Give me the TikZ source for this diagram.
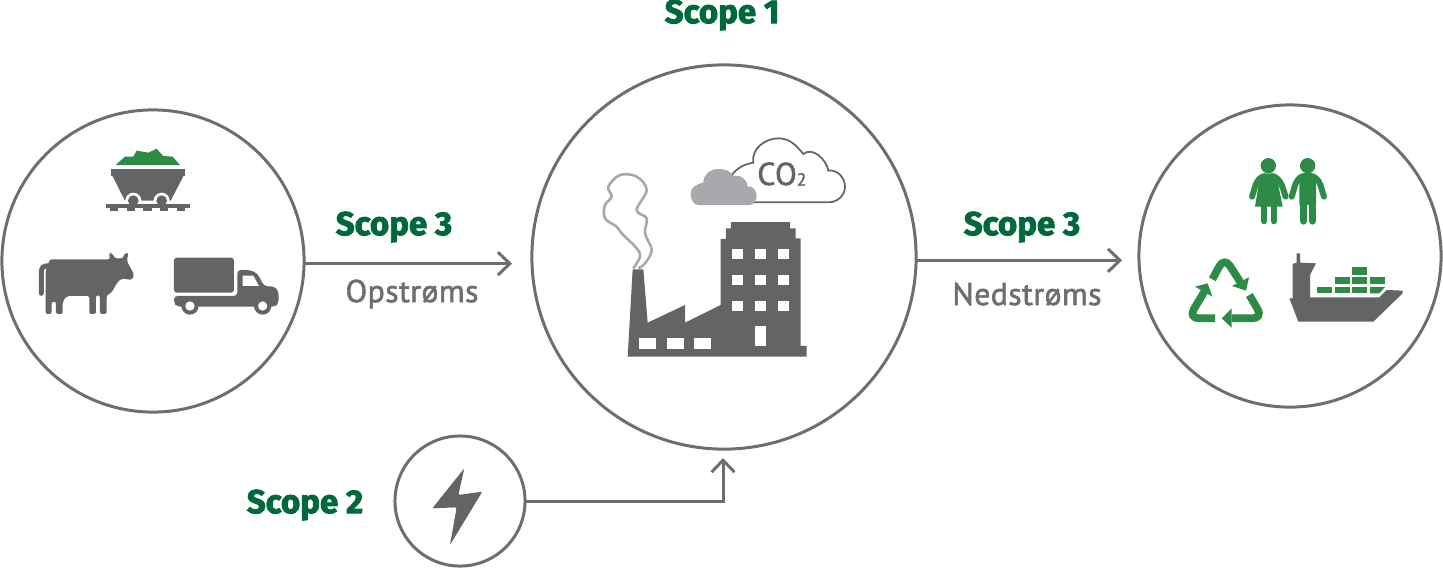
\documentclass[tikz,border=0pt]{standalone}
\usepackage{fontspec}
\usetikzlibrary{arrows.meta}
\newfontfamily\scopefont[BoldFeatures={FakeBold=2.6}]{Fira Sans}
\newfontfamily\labelfont[LetterSpace=1.5,FakeBold=1.8]{PT Sans}
\definecolor{scopegreen}{HTML}{00693C}
\definecolor{icongreen}{HTML}{2E8B45}
\definecolor{icongray}{HTML}{636466}
\definecolor{ringgray}{HTML}{6D6E70}
\definecolor{cloudgray}{HTML}{A7A9AC}
\tikzset{
	ring/.style={circle, draw=ringgray, line width=0.85pt, inner sep=0pt, outer sep=0pt},
	flow/.style={draw=ringgray, line width=0.85pt, -{Straight Barb[length=3.4pt,width=6.5pt]}},
	scopelabel/.style={text=scopegreen, font=\scopefont\bfseries\fontsize{9.4}{10}\selectfont, inner sep=0pt},
	dirlabel/.style={text=ringgray, font=\labelfont\fontsize{9}{10}\selectfont, inner sep=0pt},
	dark/.style={fill=icongray, draw=none},
	leaf/.style={fill=icongreen, draw=none},
	hole/.style={fill=white, draw=none},
	limb/.style={draw=icongreen, line cap=round},
	smokeline/.style={draw=cloudgray, line width=0.75pt, line join=round},
	loopline/.style={draw=icongreen, line width=2.2pt, rounded corners=3pt},
}
\begin{document}
\begin{tikzpicture}[x=0.01cm, y=-0.01cm]
	\useasboundingbox (0, 0) rectangle (1443, 575);

	% Rings
	\node[ring, minimum size=3.02cm] (supply) at (153, 261) {};
	\node[ring, minimum size=3.84cm] (plant) at (724, 257) {};
	\node[ring, minimum size=3.02cm] (customer) at (1290, 256) {};
	\node[ring, minimum size=1.30cm] (power) at (460, 501) {};

	% Connectors
	\path (supply.-1) ++(208, 0) coordinate (supplyend);
	\path (plant.-1.2) ++(206, 0) coordinate (customerend);
	\coordinate (powerend) at (723, 458);
	\draw[flow] (supply.-1) -- (supplyend);
	\draw[flow] (plant.-1.2) -- (customerend);
	\draw[flow] (power.east) -| (powerend);

	% Labels
	\node[scopelabel] (scopeone) at (722, 15) {Scope 1};
	\node[scopelabel] (scopeup) at (394, 227) {Scope 3};
	\node[scopelabel] (scopedown) at (1022, 227) {Scope 3};
	\node[scopelabel] (scopetwo) at (305, 505) {Scope 2};
	\node[dirlabel] (upstream) at (412, 294) {Opstrøms};
	\node[dirlabel] (downstream) at (1027, 294) {Nedstrøms};

	% Cart, cow, truck
	\begin{scope}[shift={(0, 110)}, scale=0.3333]
		\fill[leaf] (347, 165) -- (375, 140) -- (400, 140) -- (410, 122) -- (445, 128) -- (470, 116) -- (490, 138) -- (518, 140) -- (540, 165) -- cycle;
		\fill[dark] (333, 177) rectangle (555, 197);
		\fill[dark] (337, 197) -- (551, 197) -- (512, 272) -- (375, 272) -- cycle;
		\fill[hole] (400, 272) circle (24);
		\fill[hole] (485, 272) circle (24);
		\fill[dark] (400, 272) circle (16);
		\fill[dark] (485, 272) circle (16);
		\fill[dark] (317, 283) rectangle (570, 295);
		\foreach \x in {330, 380, 430, 480, 530}
			\fill[dark] (\x, 295) rectangle ({\x + 25}, 302);

		\fill[dark, rounded corners=0.6pt] (137, 612) -- (137, 480) -- (150, 448) -- (330, 448) -- (327, 430) -- (335, 428) -- (345, 445) -- (368, 445) -- (376, 428) -- (386, 430) -- (380, 452) -- (403, 495) -- (395, 510) -- (365, 505) -- (350, 520) -- (335, 548) -- (320, 556) -- (320, 612) -- (300, 612) -- (300, 556) -- (288, 556) -- (288, 612) -- (268, 612) -- (268, 558) -- (200, 558) -- (188, 575) -- (188, 612) -- (168, 612) -- (168, 575) -- (155, 575) -- (155, 612) -- cycle;
		\draw[icongray, line width=1.4pt, line cap=round] (124, 550) -- (124, 482) to[out=90, in=180] (140, 467);

		\fill[dark, rounded corners=0.8pt] (522, 443) rectangle (702, 548);
		\fill[dark, rounded corners=1pt] (712, 558) -- (712, 480) -- (750, 480) -- (772, 490) -- (792, 528) -- (825, 530) -- (836, 545) -- (836, 580) -- (825, 590) -- (530, 590) -- (522, 578) -- (522, 558) -- cycle;
		\fill[hole] (728, 497) -- (760, 497) -- (777, 528) -- (728, 528) -- cycle;
		\foreach \x in {570, 788} {
			\fill[dark] (\x, 588) circle (26);
			\fill[hole] (\x, 588) circle (14);
		}
	\end{scope}

	% Factory
	\begin{scope}[shift={(590, 130)}, scale=0.3333]
		\draw[smokeline, fill=white] plot[smooth, tension=0.6] coordinates {(130, 415) (150, 380) (140, 355) (95, 310) (80, 290) (45, 265) (45, 225) (65, 200) (55, 170) (90, 135) (140, 140) (170, 180) (140, 240) (170, 265) (165, 310) (185, 360) (165, 400) (145, 415)};
		\draw[draw=icongray, line width=0.5pt, fill=white] (425, 135) to[out=50, in=190] (490, 98) to[out=100, in=180] (565, 25) to[out=0, in=130] (640, 72) to[out=40, in=100] (715, 122) to[out=10, in=90] (765, 170) to[out=270, in=0] (715, 217) -- (480, 217) -- cycle;
		\fill[cloudgray] (325, 225) to[out=180, in=270] (302, 190) to[out=90, in=200] (340, 157) to[out=90, in=180] (385, 117) to[out=0, in=110] (430, 140) to[out=30, in=90] (473, 170) to[out=20, in=90] (500, 197) to[out=270, in=0] (478, 225) -- cycle;
		\node[text=icongray, font=\labelfont\fontsize{9}{10}\selectfont, inner sep=0pt, anchor=base west] (cotwo) at (500, 165) {CO\raisebox{-0.2pt}{\fontsize{5}{6}\selectfont 2}};
		\fill[dark] (128, 418) -- (160, 418) -- (173, 578) -- (285, 525) -- (285, 578) -- (392, 525) -- (392, 327) -- (408, 327) -- (408, 295) -- (423, 295) -- (423, 276) -- (600, 276) -- (600, 295) -- (617, 295) -- (617, 325) -- (632, 325) -- (632, 648) -- (650, 648) -- (650, 680) -- (113, 680) -- cycle;
		\foreach \x in {147, 230, 313}
			\fill[hole] (\x, 623) rectangle ({\x + 51}, 657);
		\foreach \x in {427, 496, 565}
			\foreach \y in {358, 435, 513}
				\fill[hole] (\x, \y) rectangle ({\x + 31}, {\y + 30});
		\fill[hole] (496, 588) rectangle (527, 648);
	\end{scope}

	% People, recycling, ship
	\begin{scope}[shift={(1170, 140)}, scale=0.3333]
		\fill[leaf] (295, 77) circle (23);
		\fill[leaf] (413, 77) circle (23);
		\fill[leaf] (295, 100) to[out=180, in=70] (268, 120) -- (255, 200) -- (338, 200) -- (322, 120) to[out=110, in=0] cycle;
		\draw[limb, line width=1.7pt] (282, 108) to[out=200, in=70] (246, 170);
		\draw[limb, line width=1.7pt] (308, 108) to[out=-20, in=110] (347, 170);
		\draw[limb, line width=1.9pt] (282, 200) -- (282, 243);
		\draw[limb, line width=1.9pt] (312, 200) -- (312, 243);
		\fill[leaf] (413, 97) to[out=180, in=80] (388, 120) -- (388, 195) -- (438, 195) -- (438, 120) to[out=100, in=0] cycle;
		\draw[limb, line width=1.7pt] (400, 108) to[out=200, in=70] (365, 170);
		\draw[limb, line width=1.7pt] (426, 108) to[out=-20, in=110] (462, 170);
		\draw[limb, line width=2.1pt] (400, 170) -- (400, 243);
		\draw[limb, line width=2.1pt] (428, 170) -- (428, 243);

		\draw[loopline] (127, 418) -- (163, 351) -- (212, 428);
		\fill[leaf] (237, 412) -- (228, 452) -- (186, 438) -- cycle;
		\draw[loopline] (135, 535) -- (55, 535) -- (103, 455);
		\fill[leaf] (75, 440) -- (113, 430) -- (127, 470) -- cycle;
		\draw[loopline] (238, 465) -- (279, 535) -- (185, 535);
		\fill[leaf] (185, 505) -- (185, 563) -- (155, 535) -- cycle;

		\fill[dark] (358, 475) -- (368, 475) -- (368, 372) -- (380, 368) -- (380, 340) -- (390, 340) -- (390, 368) -- (438, 370) -- (420, 405) -- (420, 472) -- (628, 472) -- (650, 450) -- (698, 452) -- (698, 460) -- (610, 545) -- (385, 545) -- cycle;
		\fill[leaf] (547, 381) rectangle (592, 404);
		\fill[leaf] (495, 411) rectangle (541, 432);
		\fill[leaf] (547, 411) rectangle (592, 432);
		\fill[leaf] (600, 411) rectangle (645, 432);
		\fill[leaf] (441, 441) rectangle (486, 460);
		\fill[leaf] (495, 441) rectangle (541, 460);
		\fill[leaf] (547, 441) rectangle (592, 460);
		\fill[leaf] (600, 441) -- (645, 441) -- (628, 460) -- (600, 460) -- cycle;
	\end{scope}

	% Lightning
	\begin{scope}[shift={(230, 430)}, scale=0.3333]
		\fill[dark, rounded corners=0.4pt] (703, 115) -- (607, 235) -- (680, 232) -- (660, 345) -- (757, 185) -- (685, 195) -- cycle;
	\end{scope}
\end{tikzpicture}
\end{document}
